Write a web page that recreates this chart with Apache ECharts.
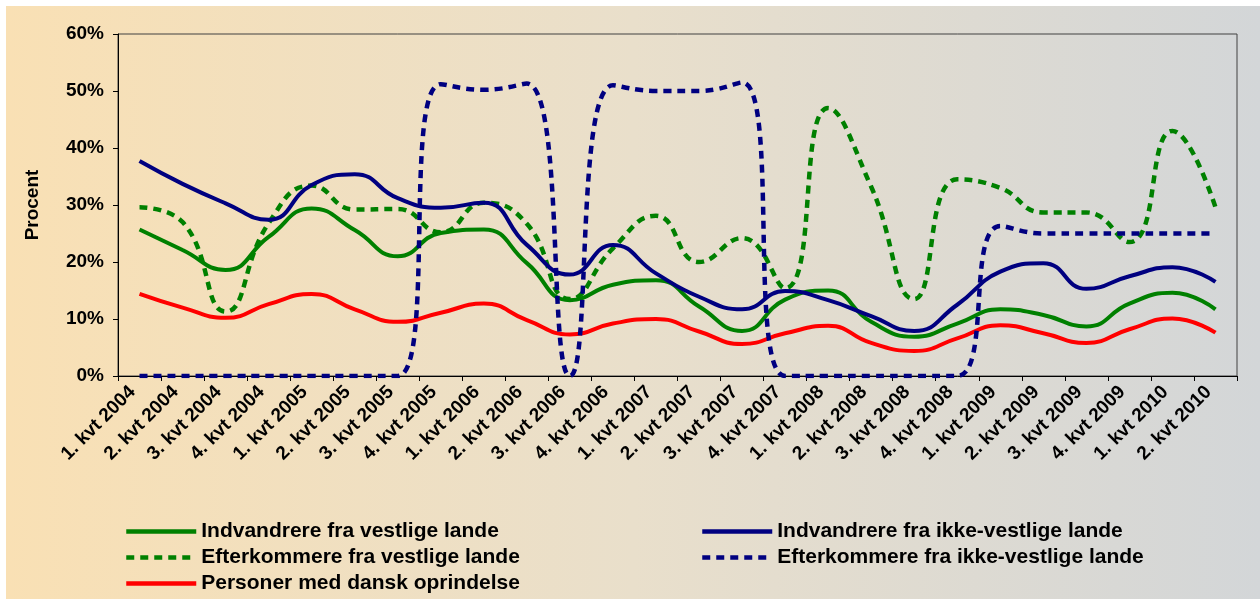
<!DOCTYPE html>
<html>
<head>
<meta charset="utf-8">
<script src="https://cdn.jsdelivr.net/npm/echarts@6.0.0/dist/echarts.min.js"></script>
<style>
  html, body { margin: 0; padding: 0; background: #fff; }
  #chart { position: absolute; left: 6px; top: 6px; width: 1254px; height: 593px; }
</style>
</head>
<body>
<div id="chart"></div>
<script>
const categories = [
    '1. kvt 2004', '2. kvt 2004', '3. kvt 2004', '4. kvt 2004',
    '1. kvt 2005', '2. kvt 2005', '3. kvt 2005', '4. kvt 2005',
    '1. kvt 2006', '2. kvt 2006', '3. kvt 2006', '4. kvt 2006',
    '1. kvt 2007', '2. kvt 2007', '3. kvt 2007', '4. kvt 2007',
    '1. kvt 2008', '2. kvt 2008', '3. kvt 2008', '4. kvt 2008',
    '1. kvt 2009', '2. kvt 2009', '3. kvt 2009', '4. kvt 2009',
    '1. kvt 2010', '2. kvt 2010'
];

const indvVestlige = [25.7, 22.1, 18.6, 24.4, 29.4, 25.6, 21.0, 25.1, 25.7, 19.8, 13.3, 16.0, 16.8,
    12.2, 7.9, 13.4, 15.0, 9.5, 6.9, 9.2, 11.7, 10.7, 8.7, 12.7, 14.6, 11.7];
const indvIkkeVestlige = [37.7, 33.7, 30.3, 27.4, 33.5, 35.4, 31.2, 29.5, 30.4, 23.0, 17.8, 23.0, 18.0,
    13.9, 11.7, 14.9, 13.3, 10.5, 7.9, 12.5, 18.3, 19.8, 15.3, 17.5, 19.1, 16.5];
const efterVestlige = [29.6, 27.0, 11.3, 26.8, 33.4, 29.2, 29.3, 25.2, 30.4, 26.7, 13.5, 22.4, 28.1,
    20.0, 24.2, 15.4, 47.0, 33.2, 13.5, 34.5, 33.0, 28.7, 28.7, 23.5, 43.0, 29.6];
const efterIkkeVestlige = [0, 0, 0, 0, 0, 0, 0, 51.2, 50.2, 51.3, 0, 51.0, 50.0,
    50.0, 51.5, 0, 0, 0, 0, 0, 26.3, 25, 25, 25, 25, 25];
const danskOprindelse = [14.4, 12.0, 10.2, 12.6, 14.4, 11.7, 9.5, 11.1, 12.7, 9.8, 7.3, 9.2, 10.0,
    7.8, 5.6, 7.5, 8.8, 5.8, 4.4, 6.6, 8.9, 7.5, 5.8, 8.2, 10.1, 7.6];

const yTicks = [0, 10, 20, 30, 40, 50, 60];

const FONT = 'Arial, "Liberation Sans", sans-serif';
const GREEN = '#008000';
const NAVY = '#000080';
const RED = '#FF0000';

const chart = echarts.init(document.getElementById('chart'), null, { renderer: 'canvas' });

function solid(name, data, color) {
    return {
        name, type: 'line', data, smooth: 0.5, symbol: 'none',
        lineStyle: { color, width: 4 }, itemStyle: { color }
    };
}
function dashed(name, data, color) {
    return {
        name, type: 'line', data, smooth: 0.5, symbol: 'none',
        lineStyle: { color, width: 4.5, type: [8, 6], cap: 'butt' }, itemStyle: { color }
    };
}

const legendText = { fontFamily: FONT, fontWeight: 'bold', fontSize: 21, color: '#000' };
const legendBase = {
    orient: 'vertical', top: 515, padding: 0,
    itemWidth: 70, itemHeight: 20, itemGap: 5, itemTextGap: 6,
    itemStyle: { opacity: 0 },
    lineStyle: { width: 4.5 },
    textStyle: legendText
};

chart.setOption({
    backgroundColor: new echarts.graphic.LinearGradient(0, 0, 1, 0, [
        { offset: 0, color: '#F9E0B4' },
        { offset: 0.5, color: '#E9DFCB' },
        { offset: 1, color: '#D3D6D8' }
    ]),
    animation: false,
    grid: {
        left: 112, top: 28, right: 23, bottom: 223,
        show: true, borderColor: '#404040', borderWidth: 1, backgroundColor: 'transparent'
    },
    legend: [Object.assign({}, legendBase, {
        left: 118,
        data: ['Indvandrere fra vestlige lande', 'Efterkommere fra vestlige lande', 'Personer med dansk oprindelse']
    }), Object.assign({}, legendBase, {
        left: 694,
        data: ['Indvandrere fra ikke-vestlige lande', 'Efterkommere fra ikke-vestlige lande']
    })],
    xAxis: {
        type: 'category',
        data: categories,
        boundaryGap: true,
        axisLine: { lineStyle: { color: '#000', width: 1 } },
        axisTick: { show: true, length: 5, lineStyle: { color: '#000' } },
        axisLabel: {
            interval: 0, rotate: 45, margin: 6, padding: [0, 10, 0, 0],
            fontFamily: FONT, fontWeight: 'bold', fontSize: 19, color: '#000'
        },
        splitLine: { show: false }
    },
    yAxis: {
        type: 'value',
        min: yTicks[0], max: yTicks[yTicks.length - 1], interval: 10,
        name: 'Procent', nameLocation: 'middle', nameGap: 76, nameRotate: 90,
        nameTextStyle: { fontFamily: FONT, fontWeight: 'bold', fontSize: 19, color: '#000' },
        axisLine: { show: true, lineStyle: { color: '#000', width: 1 } },
        axisTick: { show: true, length: 5, lineStyle: { color: '#000' } },
        axisLabel: {
            formatter: '{value}%', margin: 14,
            fontFamily: FONT, fontWeight: 'bold', fontSize: 19, color: '#000'
        },
        splitLine: { show: false }
    },
    series: [
        solid('Indvandrere fra vestlige lande', indvVestlige, GREEN),
        dashed('Efterkommere fra vestlige lande', efterVestlige, GREEN),
        solid('Personer med dansk oprindelse', danskOprindelse, RED),
        solid('Indvandrere fra ikke-vestlige lande', indvIkkeVestlige, NAVY),
        dashed('Efterkommere fra ikke-vestlige lande', efterIkkeVestlige, NAVY)
    ]
});
</script>
</body>
</html>
